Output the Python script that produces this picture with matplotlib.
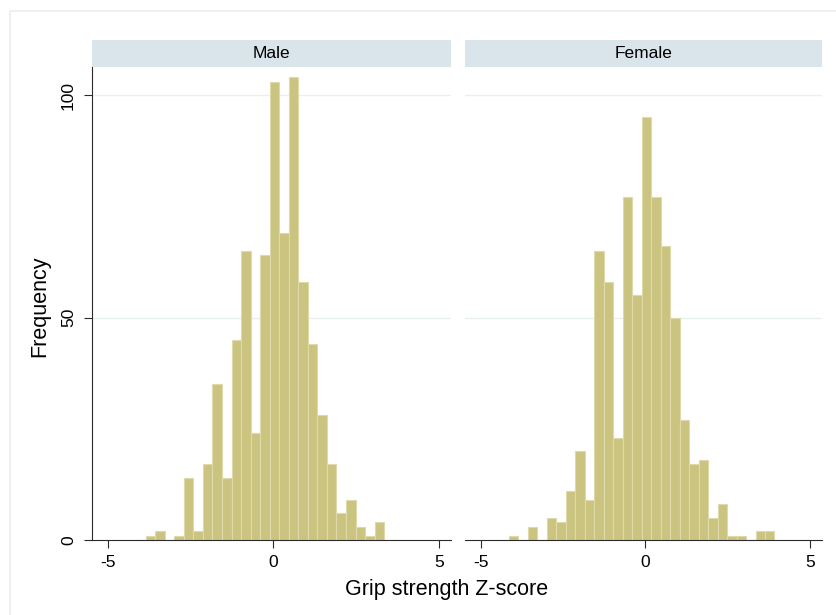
import numpy as np
import matplotlib.pyplot as plt
from matplotlib.patches import Rectangle

plt.rcParams["font.family"] = ["Liberation Sans", "DejaVu Sans"]

# Common histogram bins shared by both panels
bin_start = -4.14
bin_width = 0.2875

panels = ["Male", "Female"]
male_counts = [0, 1, 2, 0, 1, 14, 2, 17, 35, 14, 45, 65, 24, 64, 103, 69,
               104, 58, 44, 28, 17, 6, 9, 3, 1, 4, 0, 0]
female_counts = [1, 0, 3, 0, 5, 4, 11, 20, 9, 65, 58, 23, 77, 55, 95, 77,
                 66, 50, 27, 17, 18, 5, 8, 1, 1, 0, 2, 2]
x_ticks = [-5, 0, 5]
y_ticks = [0, 50, 100]

BAR_FILL = "#cbc480"
BAR_EDGE = "#dedaa9"
GRID = "#e8f0f1"
STRIP = "#d9e5eb"
AXIS = "#2b2b2b"

TICK_SIZE = 12.5
TITLE_SIZE = 15.5

W, H = 836, 615
fig = plt.figure(figsize=(W / 100, H / 100), dpi=100)
fig.patch.set_facecolor("white")

# light outer frame of the graph region
fig.patches.append(Rectangle((10 / W, -0.1), 1.2, 1 - 11 / H + 0.1,
                             transform=fig.transFigure, fill=False,
                             edgecolor="#e7eff1", linewidth=1.2))

plot_top, plot_bottom = 67, 540
strip_h = 27
lefts = [(92, 451), (465, 822)]
edges = bin_start + bin_width * np.arange(len(male_counts))

for i, (name, counts) in enumerate(zip(panels, [male_counts, female_counts])):
    x0, x1 = lefts[i]
    ax = fig.add_axes([x0 / W, (H - plot_bottom) / H, (x1 - x0) / W,
                       (plot_bottom - plot_top) / H])
    ax.bar(edges, counts, width=bin_width, align="edge", color=BAR_FILL,
           edgecolor=BAR_EDGE, linewidth=0.8, zorder=2)
    ax.set_xlim(-5.47, 5.35)
    ax.set_ylim(0, 106.3)
    ax.set_yticks(y_ticks)
    ax.set_xticks(x_ticks)
    ax.set_xticklabels([str(t) for t in x_ticks], fontsize=TICK_SIZE)
    for y in y_ticks[1:]:
        ax.axhline(y, color=GRID, linewidth=1.0, zorder=1)

    for side in ["top", "right"]:
        ax.spines[side].set_visible(False)
    ax.spines["bottom"].set_color(AXIS)
    ax.spines["bottom"].set_linewidth(0.8)
    ax.tick_params(axis="x", length=5.5, width=0.8, color=AXIS, pad=5)

    if i == 0:
        ax.spines["left"].set_color(AXIS)
        ax.spines["left"].set_linewidth(0.8)
        ax.set_yticklabels([str(t) for t in y_ticks], fontsize=TICK_SIZE,
                           rotation=90, va="center")
        ax.tick_params(axis="y", length=5.5, width=0.8, color=AXIS, pad=6)
    else:
        ax.spines["left"].set_visible(False)
        ax.tick_params(axis="y", left=False, labelleft=False)

    # panel title strip
    frac = strip_h / (plot_bottom - plot_top)
    ax.add_patch(Rectangle((0, 1), 1, frac, transform=ax.transAxes,
                           facecolor=STRIP, edgecolor="none", clip_on=False))
    ax.text(0.5, 1 + frac / 2, name, transform=ax.transAxes, ha="center",
            va="center", fontsize=TICK_SIZE, color="black")

fig.text(447 / W, 1 - 589 / H, "Grip strength Z-score", ha="center",
         va="center", fontsize=TITLE_SIZE)
fig.text(40 / W, 1 - 306 / H, "Frequency", ha="center", va="center",
         rotation=90, fontsize=TITLE_SIZE)

fig.savefig("out.png", dpi=100)
